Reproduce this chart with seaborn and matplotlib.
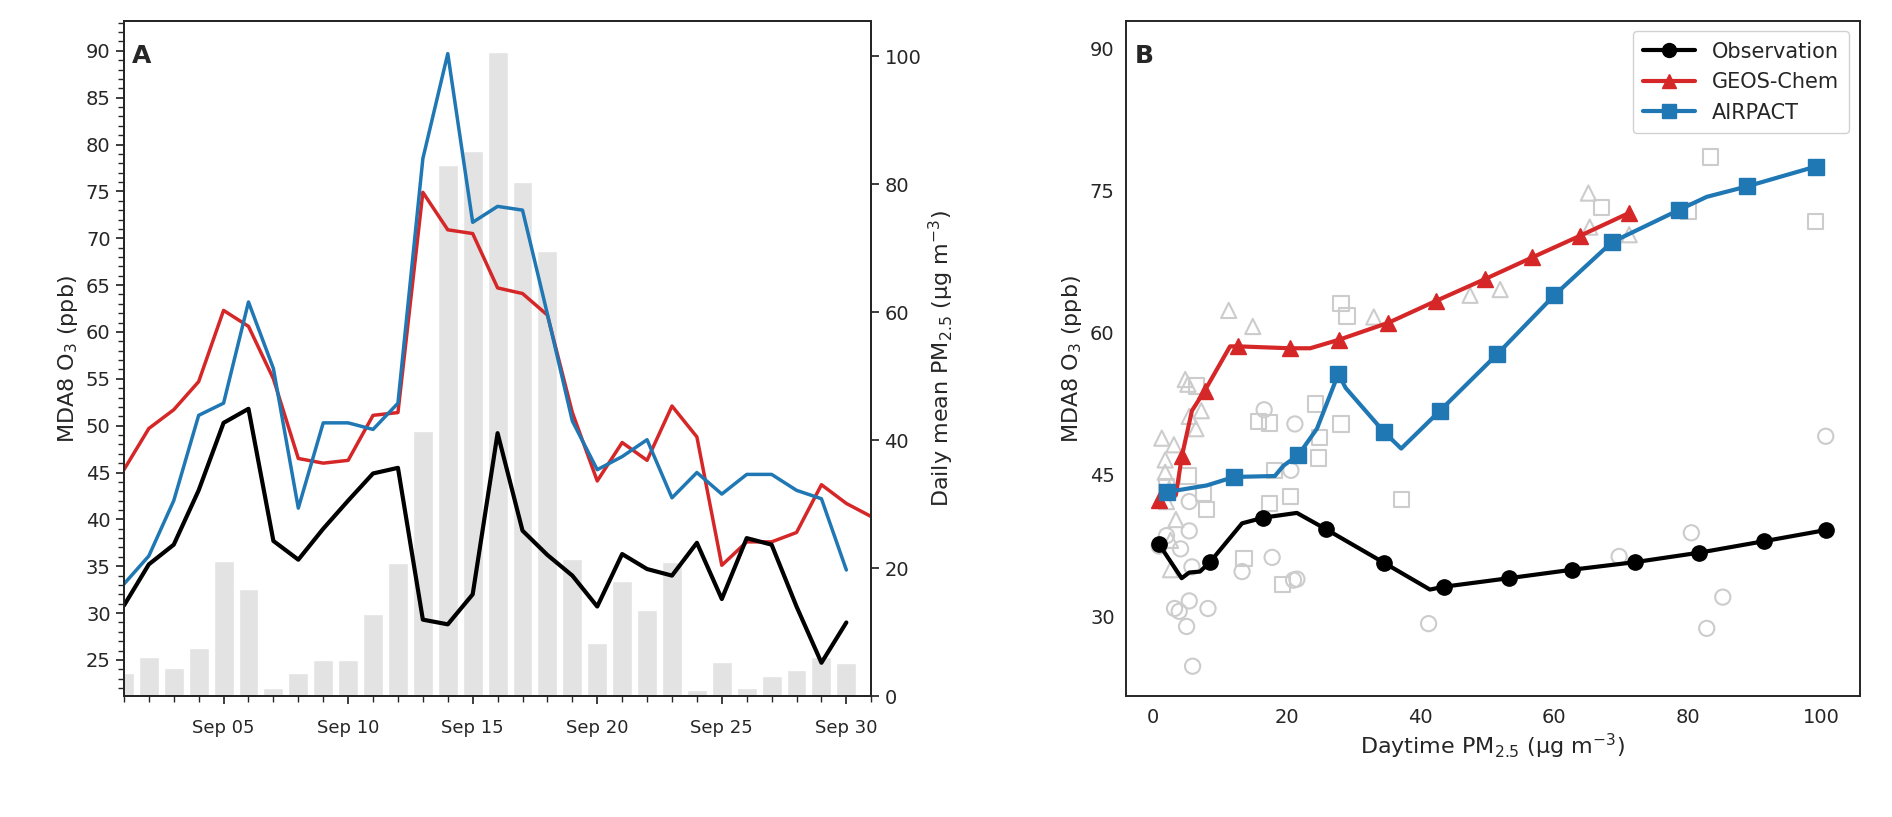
import numpy as np
import pandas as pd
import matplotlib
matplotlib.use("Agg")
import matplotlib.pyplot as plt
import matplotlib.dates as mdates
from matplotlib.lines import Line2D
from matplotlib.ticker import MultipleLocator
import seaborn as sns

# ---------------- Panel A data ----------------
dates_obs = pd.date_range("2020-09-01", "2020-09-30")
dates_geos = pd.date_range("2020-09-01", "2020-10-01")
obs_a = [30.8, 35.2, 37.3, 43.1, 50.3, 51.8, 37.7, 35.7, 39.0, 42.0, 44.9, 45.5, 29.3, 28.8, 32.0,
         49.2, 38.8, 36.2, 34.0, 30.7, 36.3, 34.7, 34.0, 37.5, 31.5, 38.0, 37.3, 30.7, 24.7, 29.0]
geos_a = [45.3, 49.7, 51.7, 54.7, 62.3, 60.6, 55.0, 46.5, 46.0, 46.3, 51.1, 51.4, 74.9, 70.9, 70.5,
          64.7, 64.1, 61.8, 51.4, 44.1, 48.2, 46.3, 52.1, 48.8, 35.1, 37.6, 37.6, 38.6, 43.7, 41.7, 40.3]
airpact_a = [33.1, 36.1, 42.0, 51.1, 52.4, 63.2, 56.1, 41.2, 50.3, 50.3, 49.6, 52.4, 78.5, 89.7, 71.7,
             73.4, 73.0, 61.9, 50.5, 45.3, 46.7, 48.5, 42.3, 45.0, 42.7, 44.8, 44.8, 43.1, 42.2, 34.6]
pm_daily = [3.6, 6.2, 4.4, 7.5, 21.2, 16.8, 1.4, 3.6, 5.7, 5.7, 12.9, 20.8, 41.5, 83.0, 85.1,
            100.6, 80.4, 69.6, 21.5, 8.4, 18.0, 13.5, 21.0, 1.0, 5.4, 1.4, 3.2, 4.2, 6.2, 5.2]

# ---------------- Panel B data ----------------
obs_line_x = [0.87, 4.26, 5.4, 7.0, 8.5, 13.3, 16.5, 21.5, 25.8, 34.6, 41.4, 43.5, 53.2, 62.7, 72.1, 81.7, 91.3, 100.7]
obs_line_y = [37.6, 34.0, 34.6, 34.7, 35.7, 39.8, 40.4, 40.9, 39.2, 35.6, 32.8, 33.1, 34.0, 34.9, 35.7, 36.7, 37.9, 39.1]
obs_mark = [0, 4, 6, 8, 9, 11, 12, 13, 14, 15, 16, 17]
geos_line_x = [0.9, 3.4, 4.3, 5.8, 7.7, 11.5, 12.7, 20.4, 23.5, 27.8, 35.2, 42.3, 49.6, 56.7, 63.9, 71.2]
geos_line_y = [42.3, 42.8, 46.9, 51.7, 53.8, 58.5, 58.5, 58.3, 58.3, 59.2, 61.0, 63.3, 65.6, 67.9, 70.2, 72.6]
geos_mark = [0, 2, 4, 6, 7, 9, 10, 11, 12, 13, 14, 15]
air_line_x = [2.0, 8.0, 12.1, 18.2, 19.5, 21.7, 24.5, 27.7, 28.8, 34.6, 37.1, 42.9, 51.5, 60.0, 68.6, 78.6, 82.8, 88.8, 99.1]
air_line_y = [43.1, 43.8, 44.7, 44.8, 45.9, 47.0, 49.8, 55.6, 54.1, 49.4, 47.7, 51.7, 57.7, 63.9, 69.5, 72.9, 74.3, 75.4, 77.5]
air_mark = [0, 2, 5, 7, 9, 11, 12, 13, 14, 15, 17, 18]

obs_pts_x = [3.2, 3.9, 5.0, 5.9, 5.4, 8.2, 4.1, 5.8, 5.4, 5.4, 13.3, 17.8, 16.6, 21.2, 20.6, 21.0, 21.5, 41.2,
             69.7, 80.5, 82.8, 85.2, 100.6, 0.9, 2.0]
obs_pts_y = [30.8, 30.5, 28.9, 24.7, 31.6, 30.8, 37.1, 35.2, 39.0, 42.1, 34.7, 36.2, 51.8, 50.3, 45.4, 33.8, 33.9, 29.2,
             36.3, 38.8, 28.7, 32.0, 49.0, 37.4, 38.5]
geos_pts_x = [1.3, 1.8, 3.1, 2.4, 3.4, 2.6, 2.6, 4.8, 5.2, 7.2, 6.4, 5.4, 11.3, 14.9, 33.0, 47.4, 51.9, 65.1, 65.3,
              71.2, 2.0, 1.8]
geos_pts_y = [48.8, 46.5, 48.1, 43.4, 40.2, 38.0, 34.9, 55.0, 54.5, 51.7, 49.8, 51.1, 62.3, 60.6, 61.6, 63.9, 64.5,
              74.7, 71.1, 70.3, 42.1, 45.2]
air_pts_x = [2.0, 5.2, 7.5, 8.0, 6.5, 15.8, 17.4, 18.2, 17.4, 20.6, 19.4, 13.6, 24.3, 24.9, 24.7, 28.1, 29.0, 28.1,
             37.1, 67.1, 80.1, 83.4, 99.1]
air_pts_y = [43.7, 44.8, 43.0, 41.3, 54.3, 50.6, 50.4, 45.4, 41.9, 42.6, 33.3, 36.1, 52.4, 48.9, 46.7, 63.0, 61.7,
             50.3, 42.3, 73.2, 72.8, 78.5, 71.7]

BLACK, RED, BLUE = "black", "#d62728", "#1f77b4"

sns.set_theme(style="ticks")
plt.rcParams["font.family"] = ["DejaVu Sans"]
plt.rcParams["axes.linewidth"] = 1.4

fig = plt.figure(figsize=(18.92, 8.17), dpi=100)
axA = fig.add_axes([0.0655, 0.1475, 0.395, 0.827])
axB = fig.add_axes([0.595, 0.1475, 0.388, 0.827])

# ---- Panel A ----
axR = axA.twinx()
dfbar = pd.DataFrame({"date": dates_obs, "pm": pm_daily})
axR.bar(dfbar["date"], dfbar["pm"], width=0.8, color="#e3e3e3", zorder=0)
axR.set_ylim(0, 105.5)
axR.set_ylabel("Daily mean PM$_{2.5}$ (µg m$^{-3}$)", fontsize=16)
axR.tick_params(labelsize=14)
axA.set_zorder(axR.get_zorder() + 1)
axA.patch.set_visible(False)

sns.lineplot(x=dates_geos, y=geos_a, ax=axA, color=RED, lw=2.5)
sns.lineplot(x=dates_obs, y=airpact_a, ax=axA, color=BLUE, lw=2.5)
sns.lineplot(x=dates_obs, y=obs_a, ax=axA, color=BLACK, lw=3)
axA.set_ylim(21.1, 93.2)
axA.set_xlim(pd.Timestamp("2020-09-01"), pd.Timestamp("2020-10-01"))
axA.yaxis.set_major_locator(MultipleLocator(5))
axA.yaxis.set_minor_locator(MultipleLocator(1))
axA.xaxis.set_major_locator(mdates.DayLocator(bymonthday=[5, 10, 15, 20, 25, 30]))
axA.xaxis.set_minor_locator(mdates.DayLocator())
axA.xaxis.set_major_formatter(mdates.DateFormatter("%b %d"))
axA.tick_params(axis="y", labelsize=14)
axA.tick_params(axis="x", labelsize=13, pad=10)
axA.set_ylabel("MDA8 O$_3$ (ppb)", fontsize=16)
axA.set_xlabel("")
axA.text(0.01, 0.965, "A", transform=axA.transAxes, fontsize=18, fontweight="bold", va="top")

# ---- Panel B ----
sns.scatterplot(x=obs_pts_x, y=obs_pts_y, ax=axB, marker="o", s=120, facecolor="none",
                edgecolor="#cccccc", linewidth=1.5)
sns.scatterplot(x=geos_pts_x, y=geos_pts_y, ax=axB, marker="^", s=120, facecolor="none",
                edgecolor="#cccccc", linewidth=1.5)
sns.scatterplot(x=air_pts_x, y=air_pts_y, ax=axB, marker="s", s=120, facecolor="none",
                edgecolor="#cccccc", linewidth=1.5)
for lx, ly, idx, c, m in [(obs_line_x, obs_line_y, obs_mark, BLACK, "o"),
                          (geos_line_x, geos_line_y, geos_mark, RED, "^"),
                          (air_line_x, air_line_y, air_mark, BLUE, "s")]:
    axB.plot(lx, ly, color=c, lw=3, zorder=3)
    axB.plot([lx[i] for i in idx], [ly[i] for i in idx], ls="none", marker=m, color=c,
             markersize=11, zorder=4)
axB.set_xlim(-4.1, 105.7)
axB.set_ylim(21.5, 92.9)
axB.set_yticks([30, 45, 60, 75, 90])
axB.set_xticks([0, 20, 40, 60, 80, 100])
axB.tick_params(length=0, labelsize=14, pad=8)
axB.set_xlabel("Daytime PM$_{2.5}$ (µg m$^{-3}$)", fontsize=16)
axB.set_ylabel("MDA8 O$_3$ (ppb)", fontsize=16)
for s in axB.spines.values():
    s.set_visible(True)
axB.text(0.012, 0.965, "B", transform=axB.transAxes, fontsize=18, fontweight="bold", va="top")
handles = [Line2D([], [], color=BLACK, marker="o", lw=3, markersize=10),
           Line2D([], [], color=RED, marker="^", lw=3, markersize=10),
           Line2D([], [], color=BLUE, marker="s", lw=3, markersize=10)]
axB.legend(handles, ["Observation", "GEOS-Chem", "AIRPACT"], loc="upper right", fontsize=15,
           framealpha=0.9, borderpad=0.5, handlelength=2.5)

fig.savefig("out.png", dpi=100)
